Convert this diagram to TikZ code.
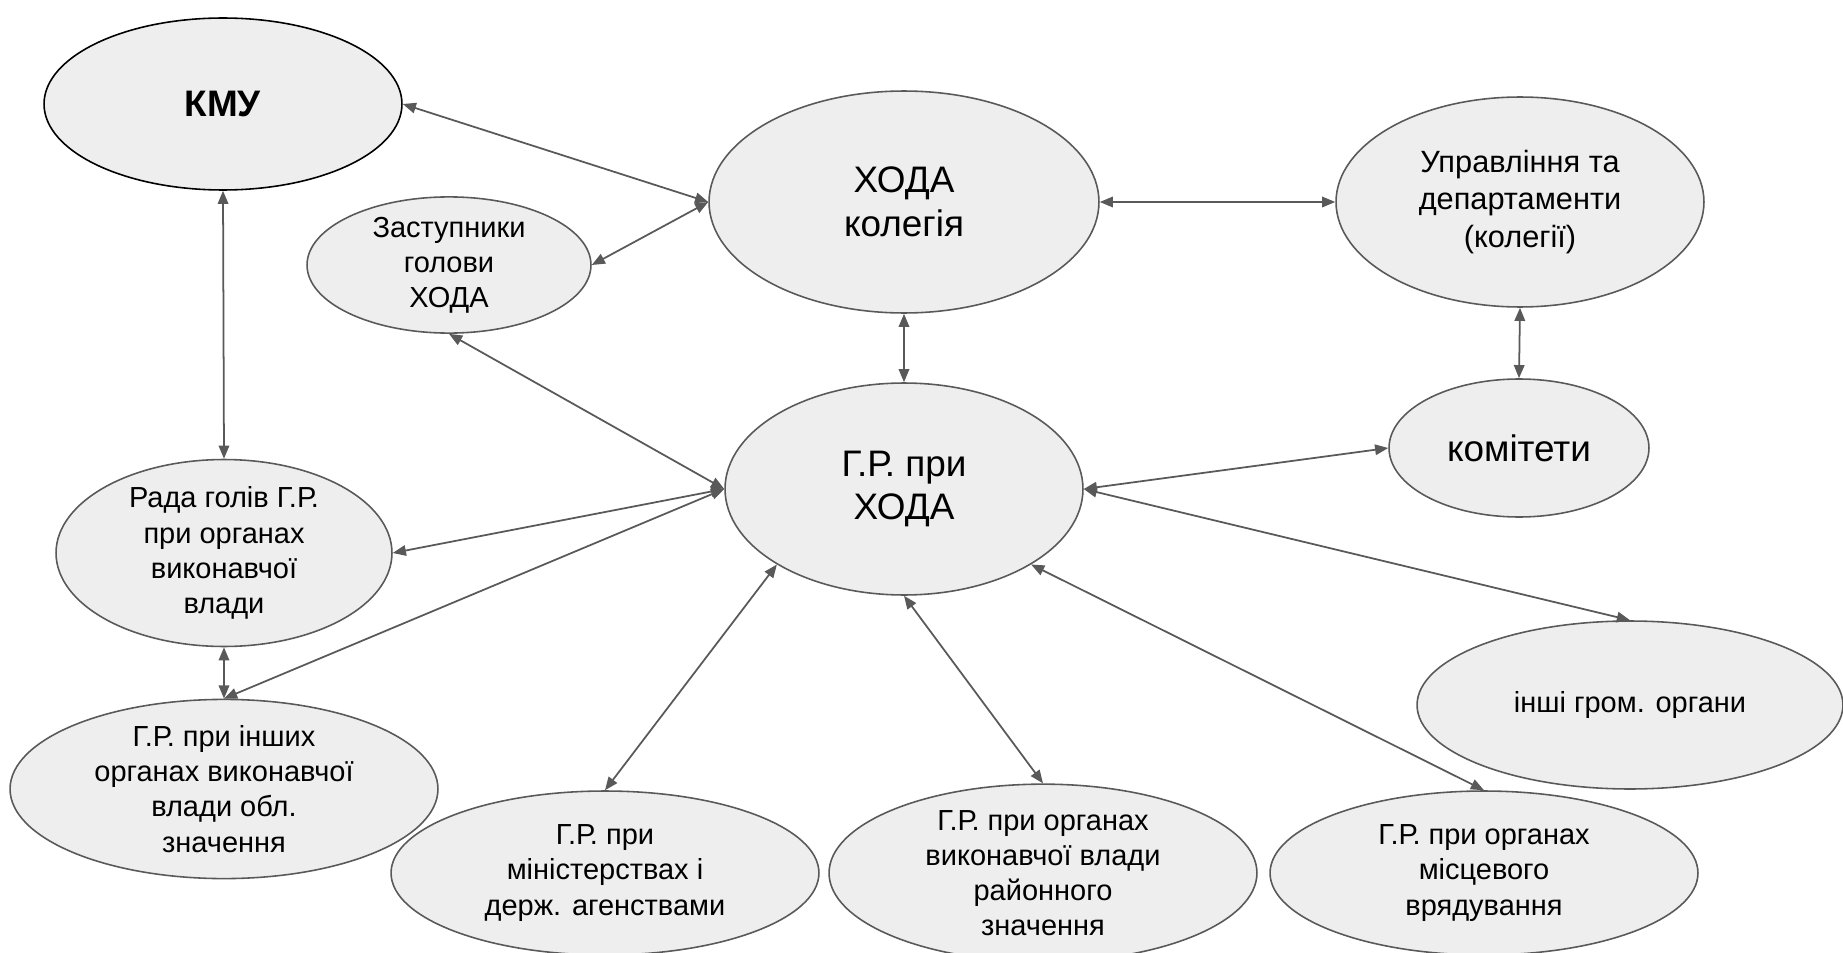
\documentclass[tikz,border=0pt]{standalone}
\usepackage{fontspec}
\setmainfont{Liberation Sans}
\usetikzlibrary{shapes.geometric,arrows.meta}
\definecolor{edgegray}{HTML}{595959}
\definecolor{fillgray}{HTML}{EEEEEE}

\begin{document}
\begin{tikzpicture}[x=0.02cm, y=-0.02cm,
    org/.style={shape=ellipse, draw=edgegray, line width=0.9pt, fill=fillgray, inner sep=0pt, align=center},
    big/.style={font=\fontsize{21}{25}\selectfont},
    mid/.style={font=\fontsize{17.5}{21.5}\selectfont},
    small/.style={font=\fontsize{16.5}{20}\selectfont},
    link/.style={{Triangle[length=7.5pt,width=6pt]}-{Triangle[length=7.5pt,width=6pt]}, draw=edgegray, line width=1pt}]

	\useasboundingbox (0, 0) rectangle (1843, 953);

	\node[org, big, draw=black, minimum width=7.16cm, minimum height=3.44cm] (kmu) at (223, 104) {\textbf{КМУ}};
	\node[org, big, minimum width=7.8cm, minimum height=4.44cm] (xoda) at (904, 202) {ХОДА\\колегія};
	\node[org, mid, minimum width=7.36cm, minimum height=4.2cm] (upr) at (1520, 202) {Управління та\\департаменти\\(колегії)};
	\node[org, small, minimum width=5.68cm, minimum height=2.12cm] (zast) at (449, 265) {Заступники\\голови\\ХОДА};
	\node[org, big, minimum width=7.16cm, minimum height=4.24cm] (gr) at (904, 489) {Г.Р. при\\ХОДА};
	\node[org, big, minimum width=5.2cm, minimum height=2.76cm] (kom) at (1519, 448) {комітети};
	\node[org, small, minimum width=6.72cm, minimum height=3.28cm] (rada) at (224, 553) {Рада голів Г.Р.\\при органах\\виконавчої\\влади};
	\node[org, small, minimum width=8.56cm, minimum height=3.28cm] (grinsh) at (224, 789) {Г.Р. при інших\\органах виконавчої\\влади обл.\\значення};
	\node[org, small, minimum width=8.52cm, minimum height=3.36cm] (inshi) at (1630, 705) {інші гром. органи};
	\node[org, small, minimum width=8.56cm, minimum height=3.28cm] (minist) at (605, 873) {Г.Р. при\\міністерствах і\\держ. агенствами};
	\node[org, small, minimum width=8.56cm, minimum height=3.28cm] (rayon) at (1043, 873) {Г.Р. при органах\\виконавчої влади\\районного\\значення};
	\node[org, small, minimum width=8.56cm, minimum height=3.28cm] (mists) at (1484, 873) {Г.Р. при органах\\місцевого\\врядування};

	\path (kmu.east) edge[link] (xoda.west);
	\path (zast.east) edge[link] (xoda.west);
	\path (xoda.east) edge[link] (upr.west);
	\path (xoda.south) edge[link] (gr.north);
	\path (upr.south) edge[link] (kom.north);
	\path (kmu.south) edge[link] (rada.north);
	\path (zast.south) edge[link] (gr.west);
	\path (gr.east) edge[link] (kom.west);
	\path (gr.west) edge[link] (rada.east);
	\path (gr.west) edge[link] (grinsh.north);
	\path (rada.south) edge[link] (grinsh.north);
	\path (gr.south west) edge[link] (minist.north);
	\path (gr.south) edge[link] (rayon.north);
	\path (gr.south east) edge[link] (mists.north);
	\path (gr.east) edge[link] (inshi.north);

\end{tikzpicture}
\end{document}
